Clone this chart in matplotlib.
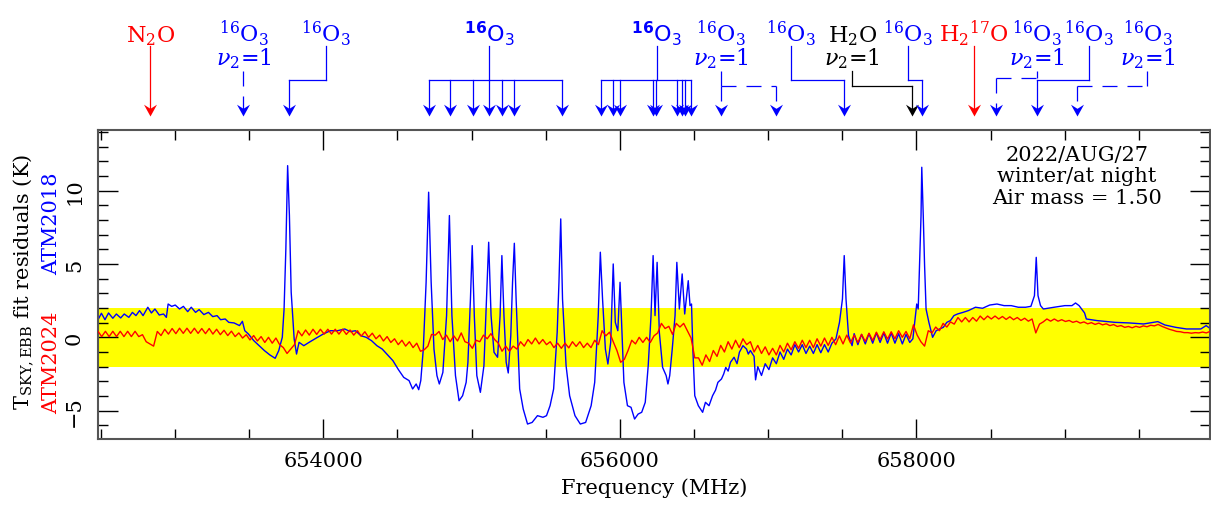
import numpy as np
import matplotlib.pyplot as plt
import matplotlib.transforms as mtransforms
from matplotlib.path import Path
from matplotlib.ticker import MultipleLocator, FormatStrFormatter

plt.rcParams['font.family'] = 'DejaVu Serif'
plt.rcParams['mathtext.fontset'] = 'dejavuserif'

# ATM2018 residuals (K) vs frequency (MHz)
atm2018_freq = [
    652483, 652503, 652527, 652551, 652580, 652604, 652633, 652657, 652688, 652712,
    652736, 652760, 652784, 652816, 652840, 652864, 652893, 652922, 652941, 652953,
    652977, 653001, 653030, 653056, 653085, 653109, 653138, 653162, 653194, 653225,
    653254, 653283, 653307, 653338, 653362, 653398, 653434, 653454, 653470, 653494,
    653531, 653567, 653603, 653639, 653675, 653699, 653723, 653735, 653747, 653759,
    653771, 653783, 653803, 653819, 653836, 653868, 653904, 653952, 654000, 654048,
    654096, 654144, 654181, 654217, 654253, 654289, 654325, 654361, 654397, 654433,
    654469, 654506, 654542, 654578, 654602, 654626, 654643, 654657, 654674, 654693,
    654710, 654727, 654746, 654766, 654782, 654806, 654831, 654850, 654867, 654891,
    654915, 654939, 654963, 654975, 654992, 655004, 655018, 655035, 655059, 655083,
    655100, 655115, 655131, 655151, 655175, 655192, 655204, 655218, 655233, 655247,
    655264, 655276, 655288, 655300, 655324, 655348, 655377, 655408, 655444, 655481,
    655505, 655529, 655553, 655577, 655589, 655601, 655613, 655637, 655661, 655697,
    655733, 655769, 655806, 655830, 655854, 655868, 655883, 655902, 655919, 655938,
    655955, 655969, 655986, 656001, 656013, 656027, 656051, 656075, 656099, 656123,
    656147, 656171, 656191, 656210, 656224,
    656237, 656251, 656266, 656288, 656312, 656324, 656336, 656353, 656372, 656384,
    656401, 656420, 656437, 656461, 656473, 656483, 656492,
    656505, 656529, 656558, 656577, 656601, 656625, 656645, 656661, 656685, 656700,
    656714, 656730, 656746, 656770, 656790, 656806, 656830, 656854, 656866,
    656880, 656905, 656915, 656930, 656955, 656980, 657005, 657030, 657055, 657080,
    657105, 657130, 657155, 657180, 657205, 657230, 657255, 657280, 657305, 657330,
    657355, 657380, 657405, 657430, 657457, 657481, 657501, 657513, 657525, 657542,
    657566, 657580, 657605, 657630, 657655, 657680, 657705, 657730, 657755, 657780,
    657805, 657830, 657855, 657880, 657905, 657930, 657955, 657976,
    657993, 658002, 658012, 658024, 658031, 658036, 658046, 658055, 658065, 658084,
    658109, 658133, 658157, 658181, 658205, 658229, 658253, 658277, 658314, 658350,
    658398, 658446, 658494, 658543, 658591, 658639, 658687, 658736, 658772, 658796,
    658808, 658820, 658837, 658856, 658929, 659001, 659049, 659073, 659097, 659122,
    659134, 659146, 659218, 659339, 659435, 659532, 659628, 659676, 659749, 659821,
    659918, 659954, 659985,
]
atm2018_res = [
    1.25, 1.64, 1.20, 1.66, 1.30, 1.59, 1.32, 1.59, 1.36, 1.70,
    1.48, 1.82, 1.48, 2.05, 1.66, 1.93, 1.52, 1.59, 1.36, 2.27,
    2.11, 2.20, 1.93, 2.11, 1.75, 2.05, 1.70, 1.89, 1.55, 1.70,
    1.41, 1.48, 1.20, 1.25, 1.02, 0.98, 0.80, 1.09, 0.45, 0.23,
    -0.23, -0.57, -0.91, -1.20, -1.43, -0.91, 0.00, 1.93, 6.02, 11.70,
    8.30, 3.07, -0.11, -1.14, -0.34, -0.57, -0.34, -0.05, 0.23, 0.45,
    0.45, 0.57, 0.39, 0.45, 0.11, 0.00, -0.23, -0.57, -0.80, -1.20,
    -1.59, -2.20, -2.73, -2.95, -3.52, -3.18, -3.57, -2.95, -0.80, 3.75,
    9.89, 3.75, -0.80, -2.61, -3.18, -2.39, 1.48, 8.30, 1.48, -2.61,
    -4.32, -3.98, -3.07, -1.70, 2.61, 6.25, 1.48, -2.61, -3.75, -1.93,
    2.61, 6.48, 1.48, -1.02, -1.36, 1.48, 5.57, 1.48, -1.70, -2.43,
    0.11, 3.75, 6.41, 2.61, -3.52, -4.89, -5.91, -5.80, -5.34, -5.45,
    -5.34, -4.66, -3.52, 0.34, 3.75, 8.07, 2.61, -1.93, -3.98, -5.34,
    -5.91, -5.80, -4.66, -3.07, 1.48, 5.80, 2.61, -0.80, -1.82, -0.34,
    5.00, 1.02, 0.45, 3.75, 0.57, -3.07, -4.66, -4.77, -5.57, -5.23,
    -5.11, -4.43, -1.93, 1.48, 5.57,
    1.48, 5.11, 0.34, -2.05, -2.61, -3.18, -2.61, -0.80, 1.48, 5.11,
    1.93, 4.32, 1.59, 3.86, 2.16, 2.27, -0.80,
    -3.98, -4.66, -5.11, -4.43, -4.66, -3.98, -3.60, -3.07, -2.84, -2.50,
    -2.05, -2.30, -1.70, -1.36, -1.80, -1.02, -0.57, -0.80, -1.14,
    -0.90, -1.30, -2.90, -2.00, -2.60, -1.80, -2.20, -1.40, -1.80, -1.00,
    -1.50, -0.80, -1.20, -0.50, -1.00, -0.50, -1.10, -0.60, -1.10, -0.50,
    -1.05, -0.50, -1.00, -0.40, -0.11, 1.02, 2.61, 5.57, 2.61, 0.11,
    -0.57, 0.25, -0.50, 0.20, -0.45, 0.25, -0.40, 0.30, -0.35, 0.30,
    -0.40, 0.30, -0.40, 0.25, -0.45, 0.20, -0.35, -0.10,
    1.48, 2.27, 1.93, 6.02, 8.30, 11.59, 8.30, 4.89, 1.93, 1.02,
    0.00, 0.45, 0.57, 0.68, 1.02, 1.14, 1.48, 1.59, 1.70, 1.82,
    2.05, 1.98, 2.20, 2.27, 2.16, 2.16, 2.05, 2.05, 2.11, 2.84,
    5.45, 2.84, 2.16, 1.93, 2.05, 2.16, 2.16, 2.34, 2.16, 1.82,
    1.66, 1.25, 1.14, 1.02, 0.98, 0.91, 1.07, 0.84, 0.68, 0.57,
    0.57, 0.80, 0.57,
]

# ATM2024 residuals (K), channels every 25 MHz from 652480 MHz
atm2024_freq = np.arange(652480, 659981, 25)
atm2024_res = [
    0.41, 0.05, 0.41, 0.05, 0.41, 0.05, 0.41, 0.05, 0.41, 0.05, 0.41, 0.05, 0.18, -0.30, -0.45, -0.60, 0.40, 0.12, 0.55, 0.22,
    0.60, 0.25, 0.62, 0.27, 0.62, 0.27, 0.62, 0.27, 0.60, 0.25, 0.60, 0.22, 0.55, 0.18, 0.48, 0.12, 0.42, 0.05, 0.30, -0.05,
    0.18, -0.18, 0.12, -0.25, 0.05, -0.35, 0.00, -0.40, -0.05, -0.50, -0.70, -1.10, -0.80, -0.50, 0.45, 0.10, 0.50, 0.15, 0.55, 0.20,
    0.55, 0.22, 0.55, 0.22, 0.55, 0.22, 0.55, 0.20, 0.50, 0.15, 0.45, 0.08, 0.38, 0.00, 0.28, -0.10, 0.15, -0.25, 0.05, -0.35,
    -0.10, -0.50, -0.20, -0.60, -0.30, -0.70, -0.40, -0.95, -0.85, -0.60, 0.20, 0.15, 0.40, -0.15, 0.15, -0.30, 0.10, -0.25, 0.30, -0.30,
    -0.40, -0.75, -0.20, -0.30, 0.15, -0.10, 0.25, -0.15, -0.40, -0.95, -0.60, -0.95, -0.60, -0.80, -0.30, -0.60, -0.15, -0.45, -0.05, -0.45,
    -0.15, -0.50, -0.30, -0.70, -0.40, -0.75, -0.40, -0.72, -0.30, -0.62, -0.30, -0.70, -0.40, -0.70, -0.20, -0.50, 0.45, 0.10, 0.35, -0.30,
    -0.90, -1.70, -1.50, -0.90, -0.20, -0.45, 0.00, -0.35, 0.00, -0.35, 0.10, 0.30, 0.95, 0.60, 0.75, 0.20, 0.95, 0.70, 0.95, 0.45,
    -0.05, -1.40, -1.40, -1.90, -1.20, -1.65, -0.90, -1.30, -0.55, -1.00, -0.30, -0.80, -0.20, -0.70, -0.10, -0.50, -0.30, -1.00, -0.55, -1.10,
    -0.65, -1.20, -0.75, -1.20, -0.55, -1.00, -0.40, -0.85, -0.30, -0.75, -0.20, -0.70, -0.20, -0.70, -0.10, -0.60, -0.05, -0.55, 0.00, -0.50,
    0.10, -0.45, 0.15, -0.38, 0.15, -0.35, 0.20, -0.28, 0.28, -0.22, 0.35, -0.15, 0.38, -0.12, 0.38, -0.10, 0.45, 0.00, 0.40, -0.10,
    0.85, 0.15, -0.30, -0.60, 0.45, 0.30, 0.70, 0.45, 0.95, 0.70, 1.05, 0.90, 1.35, 1.05, 1.35, 1.05, 1.35, 1.10, 1.45, 1.20,
    1.45, 1.25, 1.45, 1.25, 1.42, 1.22, 1.40, 1.20, 1.35, 1.15, 1.30, 1.10, 1.25, 0.30, 0.90, 1.05, 1.25, 1.10, 1.25, 1.10,
    1.20, 1.08, 1.15, 1.02, 1.10, 0.97, 1.05, 0.92, 1.00, 0.88, 0.97, 0.85, 0.92, 0.80, 0.87, 0.74, 0.80, 0.68, 0.74, 0.65,
    0.75, 0.68, 0.78, 0.72, 0.82, 0.78, 0.88, 0.75, 0.65, 0.55, 0.48, 0.40, 0.38, 0.32, 0.32, 0.28, 0.32, 0.30, 0.36, 0.30, 0.40,
]

# line identifications: label text, label frequency, transition frequencies (MHz)
id_top = [r'N$_2$O', r'$^{16}$O$_3$', r'$^{16}$O$_3$', r'$^{\mathbf{16}}$O$_3$', r'$^{\mathbf{16}}$O$_3$',
          r'$^{16}$O$_3$', r'$^{16}$O$_3$', r'H$_2$O', r'$^{16}$O$_3$', r'H$_2{}^{17}$O',
          r'$^{16}$O$_3$', r'$^{16}$O$_3$', r'$^{16}$O$_3$']
id_bottom = ['', r'$\nu_2$=1', '', '', '', r'$\nu_2$=1', '', r'$\nu_2$=1', '', '',
             r'$\nu_2$=1', '', r'$\nu_2$=1']
id_label_freq = [652834, 653461, 654017, 655120, 656248, 656679, 657153, 657567, 657940,
                 658389, 658810, 659162, 659558]
id_lines = [
    [652834],
    [653461],
    [653767],
    [654715, 654855, 655008, 655120, 655203, 655288, 655608],
    [655873, 655956, 656001, 656225, 656243, 656387, 656417, 656439, 656477],
    [656679, 657050],
    [657511],
    [657967],
    [658038],
    [658389],
    [658535],
    [658816],
    [659086],
]
# colour, dashed, elbow height (px from top), sans font
id_style = [
    ('#ff0000', False, None, False),
    ('#0000ff', True, None, False),
    ('#0000ff', False, 81, False),
    ('#0000ff', False, 81, True),
    ('#0000ff', False, 81, True),
    ('#0000ff', True, 87, False),
    ('#0000ff', False, 81, False),
    ('#000000', False, 87, False),
    ('#0000ff', False, 81, False),
    ('#ff0000', False, None, False),
    ('#0000ff', True, 79, False),
    ('#0000ff', False, 81, False),
    ('#0000ff', True, 87, False),
]

W, H = 1211, 506
fig = plt.figure(figsize=(W / 100, H / 100), dpi=100)
ax = fig.add_axes([98 / W, 1 - 440 / H, 1112 / W, 309 / H])

ax.axhspan(-2, 2, color='#ffff00', lw=0, zorder=0)
ax.plot(atm2018_freq, atm2018_res, color='#0000ff', lw=1.0, zorder=2)
ax.plot(atm2024_freq, atm2024_res, color='#ff0000', lw=1.0, zorder=3)

# identification arrows above the axes
trans = mtransforms.blended_transform_factory(ax.transData, fig.transFigure)

def fy(px):
    return 1 - px / H

head = Path([(0, 0), (-0.55, 1.0), (0, 0.65), (0.55, 1.0), (0, 0)],
            [Path.MOVETO, Path.LINETO, Path.LINETO, Path.LINETO, Path.CLOSEPOLY])
tip = 117
for top, bot, lf, lines, (c, dashed, elbow, sans) in zip(id_top, id_bottom, id_label_freq, id_lines, id_style):
    ls = (0, (12, 8)) if dashed else '-'
    kw = dict(color=c, lw=0.9, ls=ls, transform=trans, clip_on=False)
    mf = 'dejavusans' if sans else 'dejavuserif'
    fam = 'DejaVu Sans' if sans else 'DejaVu Serif'
    ax.text(lf, fy(42), top, color=c, fontsize=16, ha='center', va='baseline',
            transform=trans, family=fam, math_fontfamily=mf)
    y0 = 47
    if bot:
        ax.text(lf, fy(65), bot, color=c, fontsize=16, ha='center', va='baseline', transform=trans)
        y0 = 72
    if elbow is None:
        ax.plot([lf, lf], [fy(y0), fy(tip - 4)], **kw)
    else:
        ax.plot([lf, lf], [fy(y0), fy(elbow)], **kw)
        ax.plot([min(lines + [lf]), max(lines + [lf])], [fy(elbow), fy(elbow)], **kw)
        for f in lines:
            ax.plot([f, f], [fy(elbow), fy(tip - 4)], **kw)
    for f in lines:
        ax.plot([f], [fy(tip)], marker=head, ms=17, color=c, mew=0,
                transform=trans, clip_on=False)

ax.set_xlim(652480, 659980)
ax.set_ylim(-6.93, 14.13)

ax.xaxis.set_major_locator(MultipleLocator(2000))
ax.xaxis.set_minor_locator(MultipleLocator(500))
ax.yaxis.set_major_locator(MultipleLocator(5))
ax.yaxis.set_minor_locator(MultipleLocator(1))
ax.xaxis.set_major_formatter(FormatStrFormatter('%d'))
ax.tick_params(which='both', direction='in', top=True, right=True, width=1.0, color='black')
ax.tick_params(which='major', length=14.4)
ax.tick_params(which='minor', length=7.2)
ax.tick_params(axis='x', labelsize=15, pad=9)
ax.tick_params(axis='y', labelsize=15, pad=10, labelrotation=90)
for lab in ax.get_yticklabels():
    lab.set_va('center')
for sp in ax.spines.values():
    sp.set_color('#555555')
    sp.set_linewidth(1.5)

ax.set_xlabel('Frequency (MHz)', fontsize=15, labelpad=5)
fig.text(23 / W, fy(282), r'T$_{\rm SKY,EBB}$ fit residuals (K)', rotation=90,
         ha='center', va='center', fontsize=15)
fig.text(52 / W, fy(363), 'ATM2024', color='#ff0000', rotation=90, ha='center', va='center', fontsize=15)
fig.text(52 / W, fy(224), 'ATM2018', color='#0000ff', rotation=90, ha='center', va='center', fontsize=15)

fig.text(1077 / W, fy(146), '2022/AUG/27\nwinter/at night\nAir mass = 1.50',
         ha='center', va='top', fontsize=15, linespacing=1.15)

fig.savefig('out.png', dpi=100)
